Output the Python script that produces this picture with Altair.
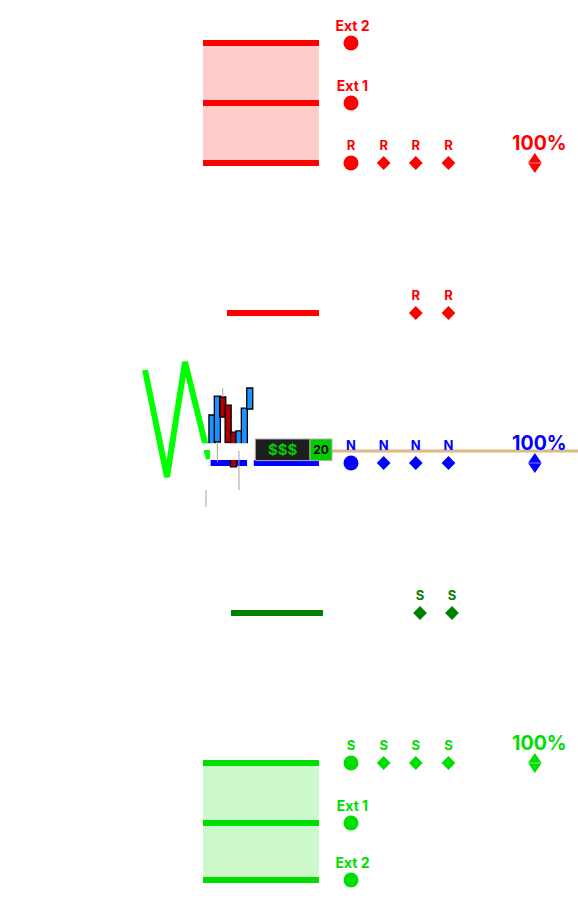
import altair as alt
import pandas as pd

# x = bar index (0 = first visible candle), y = price
X_MIN, X_MAX = -39.25, 67.787
Y_MIN, Y_MAX = 98.4733, 101.5433

# ---- price levels ----
R_EXT2, R_EXT1, R_LVL, R_MID = 101.40, 101.20, 101.00, 100.50
N_LVL = 100.00
S_MID, S_LVL, S_EXT1, S_EXT2 = 99.50, 99.00, 98.80, 98.61
LAST_PRICE = 100.04
LAST_START = 22.23

# ---- zones ----
zone_group = ["R", "S"]
zone_x0 = [-1.66, -1.66]
zone_x1 = [19.82, 19.82]
zone_top = [R_EXT2, S_LVL]
zone_bot = [R_LVL, S_EXT2]

# ---- level lines ----
line_group = ["R", "R", "R", "Rmid", "N", "N", "Smid", "S", "S", "S"]
line_level = [R_EXT2, R_EXT1, R_LVL, R_MID, N_LVL, N_LVL, S_MID, S_LVL, S_EXT1, S_EXT2]
line_x0 = [-1.66, -1.66, -1.66, 2.79, -0.25, 7.75, 3.53, -1.66, -1.66, -1.66]
line_x1 = [19.82, 19.82, 19.82, 19.82, 6.50, 19.82, 20.56, 19.82, 19.82, 19.82]

# ---- candles ----
candle_idx = [0, 1, 2, 3, 4, 5, 6, 7]
candle_open = [100.06, 100.07, 100.22, 100.193, 100.103, 100.04, 100.04, 100.18]
candle_close = [100.16, 100.223, 100.153, 100.067, 99.987, 100.107, 100.183, 100.25]
candle_high = [100.16, 100.223, 100.25, 100.193, 100.103, 100.107, 100.183, 100.25]
candle_low = [100.06, 100.003, 100.153, 100.067, 99.987, 99.91, 100.04, 100.18]
stray_wick_x = [-1.1]
stray_wick_hi = [99.91]
stray_wick_lo = [99.853]

# ---- W line ----
w_x = [-12.4, -8.32, -4.99, -0.55]
w_y = [100.31, 99.953, 100.337, 100.013]

# ---- white mask ----
mask_x0 = [-3.4, -0.36]
mask_x1 = [8.0, 8.0]
mask_top = [100.066, 100.043]
mask_bot = [100.043, 100.01]

# ---- price tag ----
tag_text = ["$$$", "20"]
tag_x0 = [8.03, 18.16]
tag_x1 = [18.16, 22.23]
tag_top = [100.08, 100.08]
tag_bot = [100.008, 100.008]

# ---- signal markers ----
sig_x = [25.75, 31.8, 37.75, 43.8]
sig_shape = ["circle", "diamond", "diamond", "diamond"]
mid_r_x = [37.75, 43.8]
mid_s_x = [38.53, 44.45]
ext_x = 25.75
pct_x = 59.8

groups = ["R", "Rmid", "N", "Smid", "S"]
group_colors = ["#ff0000", "#ff0000", "#0000ff", "#008000", "#00dd00"]

# ---------------- dataframes ----------------
zones = pd.DataFrame(dict(g=zone_group, x0=zone_x0, x1=zone_x1, top=zone_top, bot=zone_bot))
lines = pd.DataFrame(dict(g=line_group, y=line_level, x0=line_x0, x1=line_x1))
candles = pd.DataFrame(dict(i=candle_idx, o=candle_open, c=candle_close, h=candle_high, l=candle_low))
candles["x0"] = candles["i"] - 0.56
candles["x1"] = candles["i"] + 0.56
candles["up"] = candles["c"] > candles["o"]
candles["btop"] = candles[["o", "c"]].max(axis=1)
candles["bbot"] = candles[["o", "c"]].min(axis=1)
wicks = pd.concat([
    pd.DataFrame(dict(x=candles["i"], hi=candles["h"], lo=candles["btop"])),
    pd.DataFrame(dict(x=candles["i"], hi=candles["bbot"], lo=candles["l"])),
    pd.DataFrame(dict(x=stray_wick_x, hi=stray_wick_hi, lo=stray_wick_lo)),
])
wicks = wicks[wicks["hi"] > wicks["lo"]]
wline = pd.DataFrame(dict(x=w_x, y=w_y, k=list(range(len(w_x)))))
mask = pd.DataFrame(dict(x0=mask_x0, x1=mask_x1, top=mask_top, bot=mask_bot))
tags = pd.DataFrame(dict(t=tag_text, x0=tag_x0, x1=tag_x1, top=tag_top, bot=tag_bot))
tags["xm"] = (tags["x0"] + tags["x1"]) / 2
tags["ym"] = (tags["top"] + tags["bot"]) / 2
last = pd.DataFrame(dict(y=[LAST_PRICE], x0=[LAST_START], x1=[X_MAX]))

sig_rows = []
for g, lvl, lab in [("R", R_LVL, "R"), ("N", N_LVL, "N"), ("S", S_LVL, "S")]:
    for x, sh in zip(sig_x, sig_shape):
        sig_rows.append(dict(g=g, x=x, y=lvl, shape=sh, label=lab))
for x in mid_r_x:
    sig_rows.append(dict(g="Rmid", x=x, y=R_MID, shape="diamond", label="R"))
for x in mid_s_x:
    sig_rows.append(dict(g="Smid", x=x, y=S_MID, shape="diamond", label="S"))
sigs = pd.DataFrame(sig_rows)

exts = pd.DataFrame(dict(
    g=["R", "R", "S", "S"], x=[ext_x] * 4,
    y=[R_EXT2, R_EXT1, S_EXT1, S_EXT2],
    label=["Ext 2", "Ext 1", "Ext 1", "Ext 2"],
))
pcts = pd.DataFrame(dict(g=["R", "N", "S"], x=[pct_x] * 3, y=[R_LVL, N_LVL, S_LVL],
                         label=["100%", "100%", "100%"]))

# ---------------- encodings ----------------
xs = alt.Scale(domain=[X_MIN, X_MAX], nice=False, zero=False)
ys = alt.Scale(domain=[Y_MIN, Y_MAX], nice=False, zero=False)
col = alt.Color("g:N", scale=alt.Scale(domain=groups, range=group_colors), legend=None)


def X(f):
    return alt.X(f"{f}:Q", scale=xs, axis=None)


def Y(f):
    return alt.Y(f"{f}:Q", scale=ys, axis=None)


FONT = "Inter"
DOUBLE_TRI = "M0,-1.5L-1,-0.05L1,-0.05Z M-1,0.05L0,1.5L1,0.05Z"

zone_layer = alt.Chart(zones).mark_rect(opacity=0.2).encode(
    x=X("x0"), x2="x1", y=Y("top"), y2="bot", color=col)

line_layer = alt.Chart(lines).mark_rule(strokeWidth=6).encode(
    x=X("x0"), x2="x1", y=Y("y"), color=col)

last_layer = alt.Chart(last).mark_rule(strokeWidth=3, color="#deb887").encode(
    x=X("x0"), x2="x1", y=Y("y"))

w_layer = alt.Chart(wline).mark_line(strokeWidth=6, color="#00ff00").encode(
    x=X("x"), y=Y("y"), order="k:Q")

body_layer = alt.Chart(candles).mark_rect(stroke="black", strokeWidth=1.3).encode(
    x=X("x0"), x2="x1", y=Y("o"), y2="c",
    fill=alt.Fill("up:N", scale=alt.Scale(domain=[True, False], range=["#1e90ff", "#b00000"]), legend=None))

mask_layer = alt.Chart(mask).mark_rect(color="white").encode(
    x=X("x0"), x2="x1", y=Y("top"), y2="bot")

wick_layer = alt.Chart(wicks).mark_rule(strokeWidth=1, color="#a0a0a0").encode(
    x=X("x"), y=Y("hi"), y2="lo")

tag_box = alt.Chart(tags).mark_rect(stroke="#b0b0b0", strokeWidth=1).encode(
    x=X("x0"), x2="x1", y=Y("top"), y2="bot",
    fill=alt.Fill("t:N", scale=alt.Scale(domain=["$$$", "20"], range=["#1e1e1e", "#00cc00"]), legend=None))
tag_txt = alt.Chart(tags).mark_text(font=FONT, fontWeight="bold", baseline="middle", align="center").encode(
    x=X("xm"), y=Y("ym"), text="t:N",
    color=alt.Color("t:N", scale=alt.Scale(domain=["$$$", "20"], range=["#00cc00", "#000000"]), legend=None),
    size=alt.Size("t:N", scale=alt.Scale(domain=["$$$", "20"], range=[15, 12]), legend=None))

sig_pts = alt.Chart(sigs).mark_point(filled=True, opacity=1, strokeWidth=0).encode(
    x=X("x"), y=Y("y"), color=col,
    shape=alt.Shape("shape:N", scale=alt.Scale(domain=["circle", "diamond"], range=["circle", "diamond"]), legend=None),
    size=alt.Size("shape:N", scale=alt.Scale(domain=["circle", "diamond"], range=[225, 190]), legend=None))
sig_txt = alt.Chart(sigs).mark_text(font=FONT, fontWeight="bold", fontSize=13, dy=-13,
                                    baseline="alphabetic", align="center").encode(
    x=X("x"), y=Y("y"), text="label:N", color=col)

ext_pts = alt.Chart(exts).mark_point(filled=True, opacity=1, strokeWidth=0, shape="circle", size=225).encode(
    x=X("x"), y=Y("y"), color=col)
ext_txt = alt.Chart(exts).mark_text(font=FONT, fontWeight="bold", fontSize=14, dy=-12, dx=1.5,
                                    baseline="alphabetic", align="center").encode(
    x=X("x"), y=Y("y"), text="label:N", color=col)

pct_pts = alt.Chart(pcts).mark_point(filled=True, opacity=1, strokeWidth=0, shape=DOUBLE_TRI,
                                     size=180).encode(x=X("x"), y=Y("y"), color=col)
pct_txt = alt.Chart(pcts).mark_text(font=FONT, fontWeight="bold", fontSize=19.5, dy=-13, dx=4.5,
                                    baseline="alphabetic", align="center").encode(
    x=X("x"), y=Y("y"), text="label:N", color=col)

chart = alt.layer(
    zone_layer, line_layer, last_layer, w_layer, body_layer, mask_layer, wick_layer,
    tag_box, tag_txt, sig_pts, sig_txt, ext_pts, ext_txt, pct_pts, pct_txt,
).resolve_scale(color="independent", fill="independent", size="independent").properties(
    width=578, height=921, padding=0, autosize="none", background="white",
).configure_view(strokeWidth=0)

chart.save("out.html", embed_options={"renderer": "svg", "actions": False})
